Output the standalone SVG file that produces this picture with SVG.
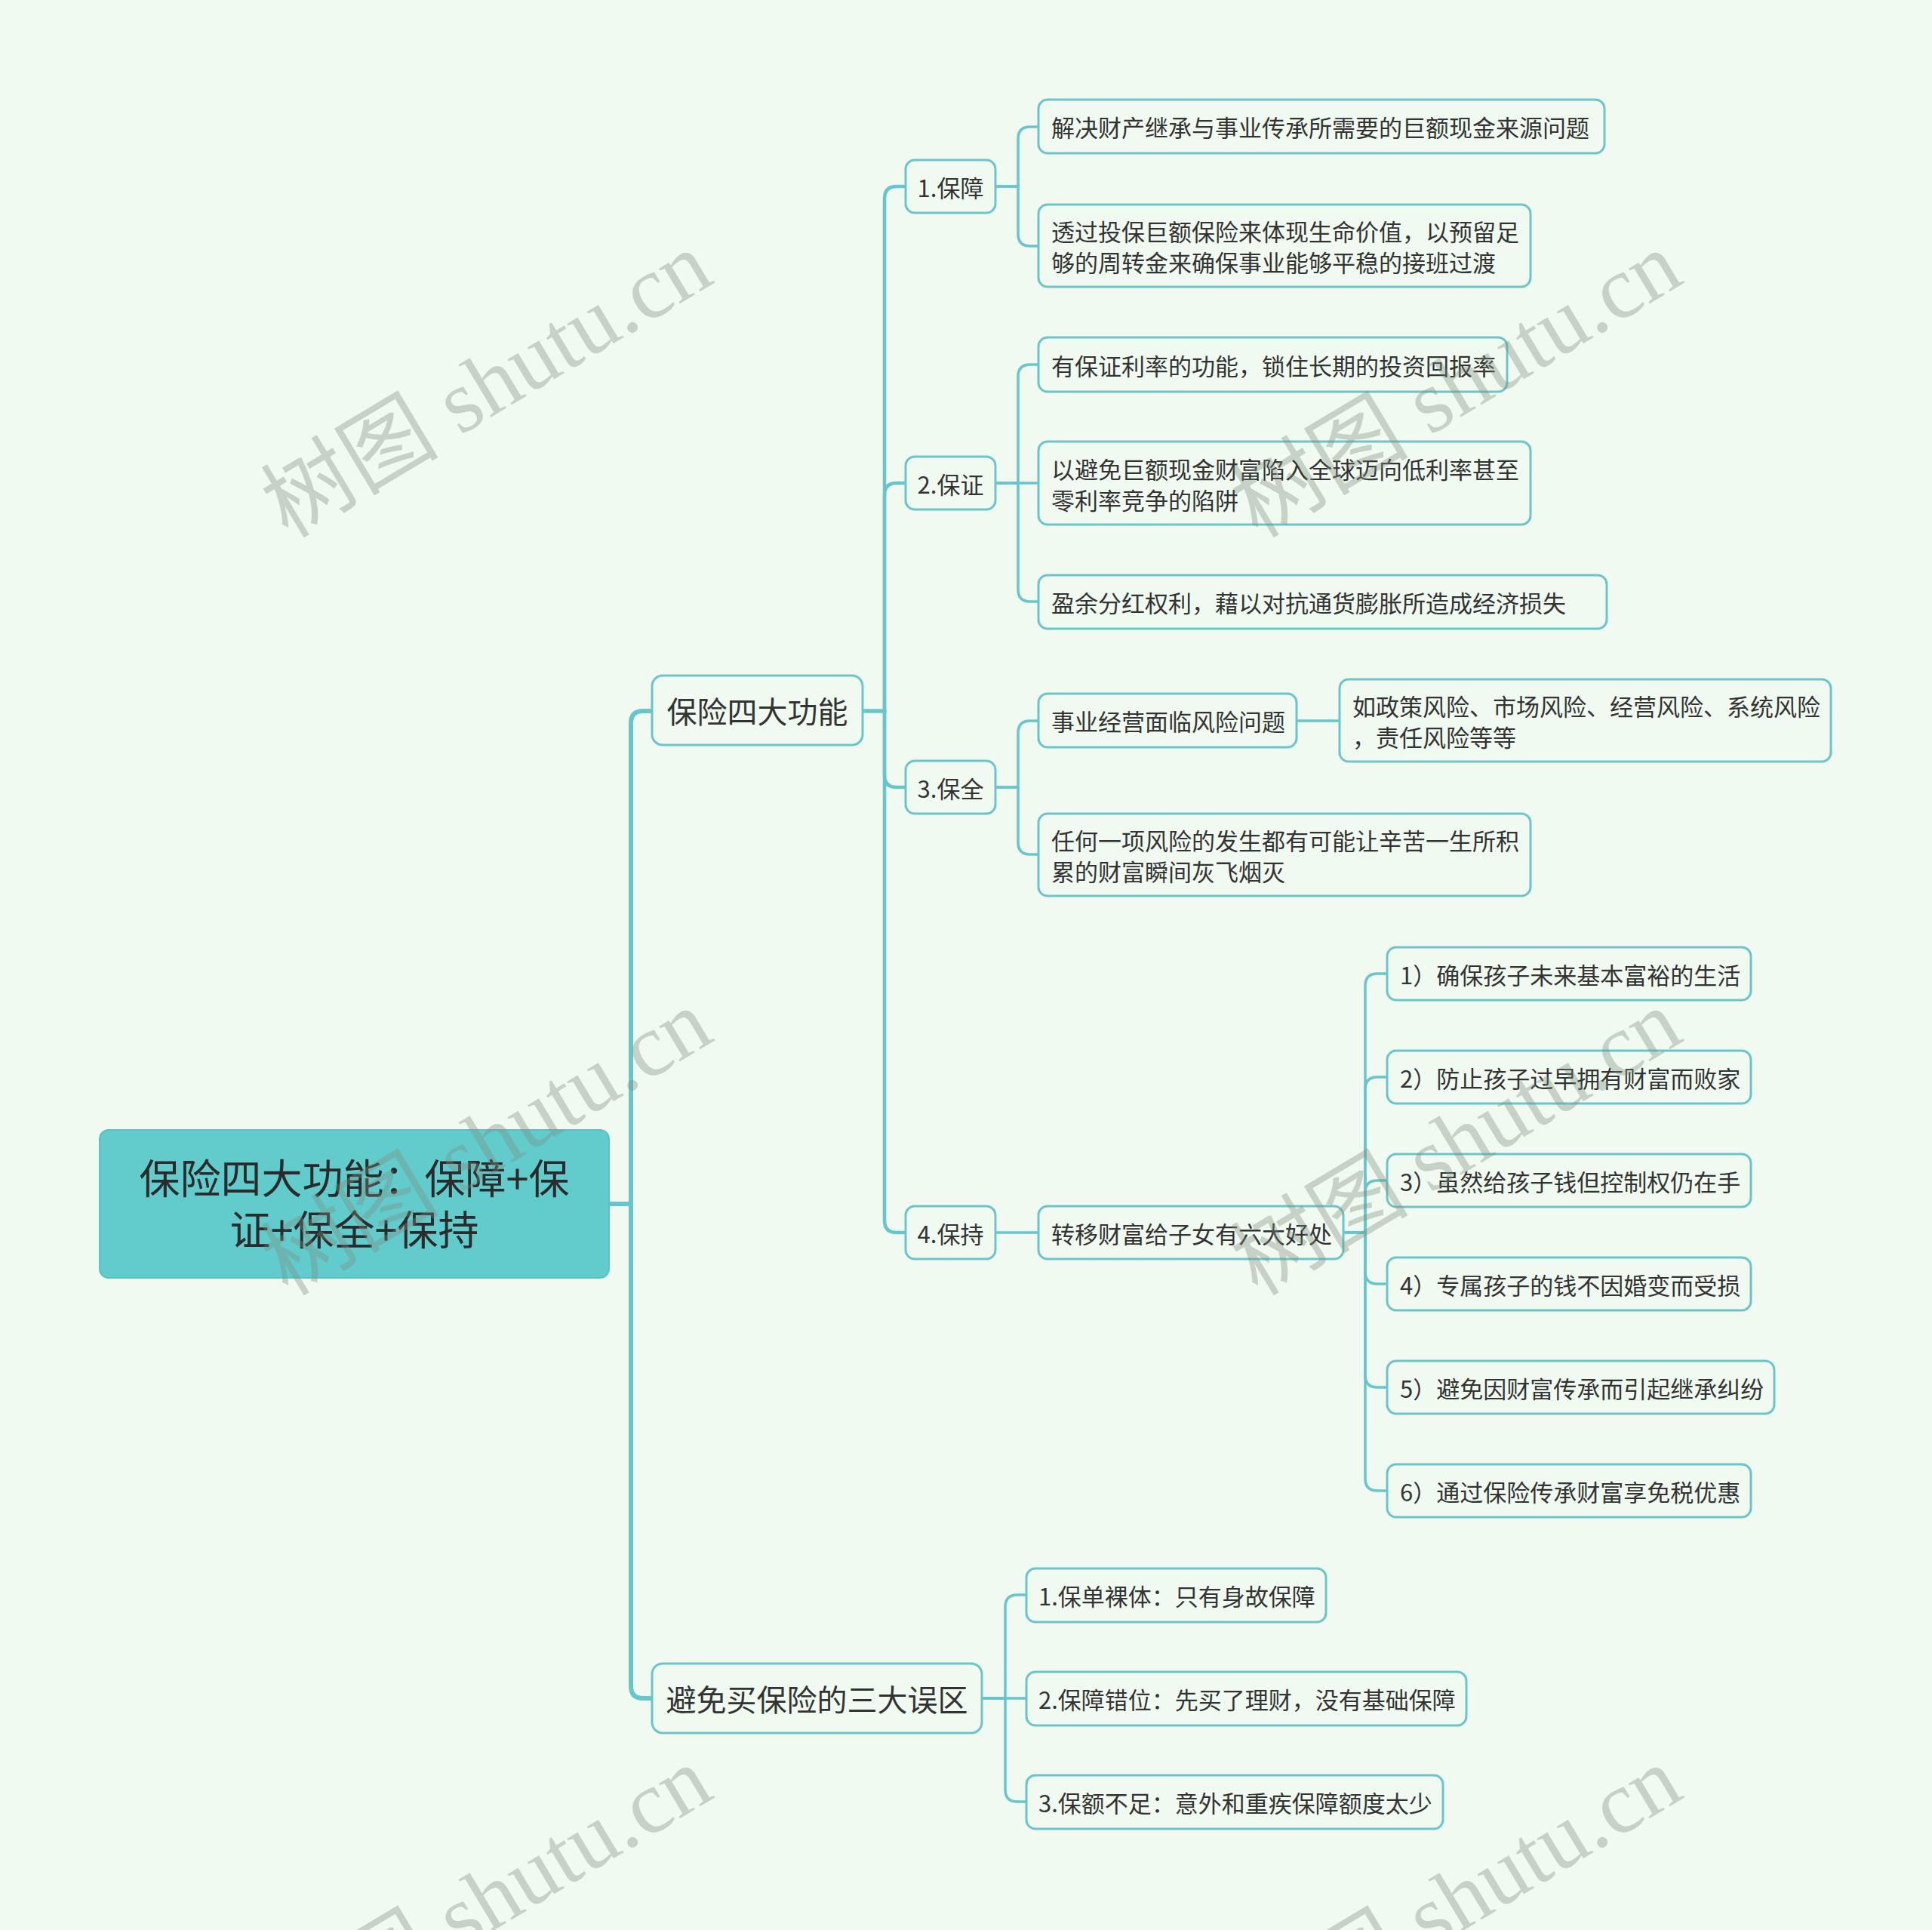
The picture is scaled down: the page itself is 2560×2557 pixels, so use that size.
<svg xmlns="http://www.w3.org/2000/svg" width="2560" height="2557" viewBox="0 0 2560 2557">
<style>
.bg{fill:#F0FAF0}
.node rect{fill:#F0FAF0;stroke:#6CC5C9;stroke-width:3}
.node text{font-family:"Noto Sans CJK SC","Noto Sans",sans-serif;fill:#333333;dominant-baseline:central}
.t31{font-size:31px}
.t40{font-size:40px}
.c6{fill:none;stroke:#67C6CB;stroke-width:6;stroke-linecap:round}
.c4{fill:none;stroke:#67C6CB;stroke-width:4.5;stroke-linecap:round}
.c3{fill:none;stroke:#67C6CB;stroke-width:3.5;stroke-linecap:round}
.wm{font-family:"Liberation Serif","Noto Sans CJK SC",serif;font-size:118px;fill:#7F8A7F;fill-opacity:0.36}
</style>
<rect class="bg" x="0" y="0" width="2560" height="2557"/>

<g id="connectors">
  <path class="c6" d="M807 1595 H836 V958 Q836 942 852 942 H864"/>
  <path class="c6" d="M807 1595 H836 V2234 Q836 2250 852 2250 H864"/>
  <path class="c4" d="M1143 942 H1172 V263 Q1172 247 1188 247 H1200"/>
  <path class="c4" d="M1143 942 H1172 V656 Q1172 640 1188 640 H1200"/>
  <path class="c4" d="M1143 942 H1172 V1027 Q1172 1043 1188 1043 H1200"/>
  <path class="c4" d="M1143 942 H1172 V1617 Q1172 1633 1188 1633 H1200"/>
  <path class="c3" d="M1319 247 H1349 V184 Q1349 168 1365 168 H1376"/>
  <path class="c3" d="M1319 247 H1349 V310 Q1349 326 1365 326 H1376"/>
  <path class="c3" d="M1319 640 H1349 V499 Q1349 483 1365 483 H1376"/>
  <path class="c3" d="M1319 640 H1376"/>
  <path class="c3" d="M1319 640 H1349 V781 Q1349 797 1365 797 H1376"/>
  <path class="c3" d="M1319 1043 H1349 V971 Q1349 955 1365 955 H1376"/>
  <path class="c3" d="M1319 1043 H1349 V1116 Q1349 1132 1365 1132 H1376"/>
  <path class="c3" d="M1718 955 H1775"/>
  <path class="c3" d="M1319 1633 H1376"/>
  <path class="c3" d="M1780 1633 H1809 V1306 Q1809 1290 1825 1290 H1838"/>
  <path class="c3" d="M1780 1633 H1809 V1443 Q1809 1427 1825 1427 H1838"/>
  <path class="c3" d="M1780 1633 H1809 V1580 Q1809 1564 1825 1564 H1838"/>
  <path class="c3" d="M1780 1633 H1809 V1685 Q1809 1701 1825 1701 H1838"/>
  <path class="c3" d="M1780 1633 H1809 V1822 Q1809 1838 1825 1838 H1838"/>
  <path class="c3" d="M1780 1633 H1809 V1959 Q1809 1975 1825 1975 H1838"/>
  <path class="c3" d="M1301 2250 H1332 V2129 Q1332 2113 1348 2113 H1360"/>
  <path class="c3" d="M1301 2250 H1360"/>
  <path class="c3" d="M1301 2250 H1332 V2371 Q1332 2387 1348 2387 H1360"/>
</g>

<g id="root" class="node">
  <rect x="132" y="1497" width="675" height="196" rx="12" style="fill:#62CBCC;stroke:#5BC0C4;stroke-width:2"/>
  <text x="469.5" y="1558" text-anchor="middle" style="font-size:54px;fill:#2B2B2B">保险四大功能：保障+保</text>
  <text x="469.5" y="1626" text-anchor="middle" style="font-size:54px;fill:#2B2B2B">证+保全+保持</text>
</g>

<g id="n-functions" class="node">
  <rect x="864" y="895" width="279" height="92" rx="14"/>
  <text class="t40" x="1003.5" y="941" text-anchor="middle">保险四大功能</text>
</g>
<g id="n-mistakes" class="node">
  <rect x="864" y="2204" width="437" height="92" rx="14"/>
  <text class="t40" x="1082.5" y="2250" text-anchor="middle">避免买保险的三大误区</text>
</g>

<g id="n-1" class="node">
  <rect x="1200" y="212" width="119" height="70" rx="12"/>
  <text class="t31" x="1259.5" y="247" text-anchor="middle">1.保障</text>
</g>
<g id="n-2" class="node">
  <rect x="1200" y="605" width="119" height="70" rx="12"/>
  <text class="t31" x="1259.5" y="640" text-anchor="middle">2.保证</text>
</g>
<g id="n-3" class="node">
  <rect x="1200" y="1008" width="119" height="70" rx="12"/>
  <text class="t31" x="1259.5" y="1043" text-anchor="middle">3.保全</text>
</g>
<g id="n-4" class="node">
  <rect x="1200" y="1598" width="119" height="70" rx="12"/>
  <text class="t31" x="1259.5" y="1633" text-anchor="middle">4.保持</text>
</g>

<g id="n-1a" class="node">
  <rect x="1376" y="132" width="750" height="71" rx="12"/>
  <text class="t31" x="1393" y="167.5">解决财产继承与事业传承所需要的巨额现金来源问题</text>
</g>
<g id="n-1b" class="node">
  <rect x="1376" y="271" width="652" height="109" rx="12"/>
  <text class="t31" x="1393" y="305">透过投保巨额保险来体现生命价值，以预留足</text>
  <text class="t31" x="1393" y="346">够的周转金来确保事业能够平稳的接班过渡</text>
</g>

<g id="n-2a" class="node">
  <rect x="1376" y="447" width="621" height="72" rx="12"/>
  <text class="t31" x="1393" y="483">有保证利率的功能，锁住长期的投资回报率</text>
</g>
<g id="n-2b" class="node">
  <rect x="1376" y="585" width="652" height="110" rx="12"/>
  <text class="t31" x="1393" y="620">以避免巨额现金财富陷入全球迈向低利率甚至</text>
  <text class="t31" x="1393" y="661">零利率竞争的陷阱</text>
</g>
<g id="n-2c" class="node">
  <rect x="1376" y="762" width="753" height="71" rx="12"/>
  <text class="t31" x="1393" y="797.5">盈余分红权利，藉以对抗通货膨胀所造成经济损失</text>
</g>

<g id="n-3a" class="node">
  <rect x="1376" y="919" width="342" height="71" rx="12"/>
  <text class="t31" x="1393" y="954.5">事业经营面临风险问题</text>
</g>
<g id="n-3a1" class="node">
  <rect x="1775" y="900" width="651" height="109" rx="12"/>
  <text class="t31" x="1792" y="934">如政策风险、市场风险、经营风险、系统风险</text>
  <text class="t31" x="1792" y="975">，责任风险等等</text>
</g>
<g id="n-3b" class="node">
  <rect x="1376" y="1078" width="652" height="109" rx="12"/>
  <text class="t31" x="1393" y="1112">任何一项风险的发生都有可能让辛苦一生所积</text>
  <text class="t31" x="1393" y="1153">累的财富瞬间灰飞烟灭</text>
</g>

<g id="n-4a" class="node">
  <rect x="1376" y="1598" width="404" height="70" rx="12"/>
  <text class="t31" x="1393" y="1633">转移财富给子女有六大好处</text>
</g>
<g id="n-4a1" class="node">
  <rect x="1838" y="1255" width="482" height="70" rx="12"/>
  <text class="t31" x="1855" y="1290">1）确保孩子未来基本富裕的生活</text>
</g>
<g id="n-4a2" class="node">
  <rect x="1838" y="1392" width="482" height="70" rx="12"/>
  <text class="t31" x="1855" y="1427">2）防止孩子过早拥有财富而败家</text>
</g>
<g id="n-4a3" class="node">
  <rect x="1838" y="1529" width="482" height="70" rx="12"/>
  <text class="t31" x="1855" y="1564">3）虽然给孩子钱但控制权仍在手</text>
</g>
<g id="n-4a4" class="node">
  <rect x="1838" y="1666" width="482" height="70" rx="12"/>
  <text class="t31" x="1855" y="1701">4）专属孩子的钱不因婚变而受损</text>
</g>
<g id="n-4a5" class="node">
  <rect x="1838" y="1803" width="513" height="70" rx="12"/>
  <text class="t31" x="1855" y="1838">5）避免因财富传承而引起继承纠纷</text>
</g>
<g id="n-4a6" class="node">
  <rect x="1838" y="1940" width="482" height="70" rx="12"/>
  <text class="t31" x="1855" y="1975">6）通过保险传承财富享免税优惠</text>
</g>

<g id="n-m1" class="node">
  <rect x="1360" y="2078" width="397" height="71" rx="12"/>
  <text class="t31" x="1376" y="2113">1.保单裸体：只有身故保障</text>
</g>
<g id="n-m2" class="node">
  <rect x="1360" y="2215" width="583" height="71" rx="12"/>
  <text class="t31" x="1376" y="2250">2.保障错位：先买了理财，没有基础保障</text>
</g>
<g id="n-m3" class="node">
  <rect x="1360" y="2352" width="552" height="71" rx="12"/>
  <text class="t31" x="1376" y="2387">3.保额不足：意外和重疾保障额度太少</text>
</g>

<g id="watermark">
  <text class="wm" transform="translate(645 510) rotate(-31)" text-anchor="middle" dominant-baseline="central">树图 shutu.cn</text>
  <text class="wm" transform="translate(1930 510) rotate(-31)" text-anchor="middle" dominant-baseline="central">树图 shutu.cn</text>
  <text class="wm" transform="translate(645 1514) rotate(-31)" text-anchor="middle" dominant-baseline="central">树图 shutu.cn</text>
  <text class="wm" transform="translate(1930 1514) rotate(-31)" text-anchor="middle" dominant-baseline="central">树图 shutu.cn</text>
  <text class="wm" transform="translate(645 2517) rotate(-31)" text-anchor="middle" dominant-baseline="central">树图 shutu.cn</text>
  <text class="wm" transform="translate(1930 2517) rotate(-31)" text-anchor="middle" dominant-baseline="central">树图 shutu.cn</text>
</g>
</svg>
